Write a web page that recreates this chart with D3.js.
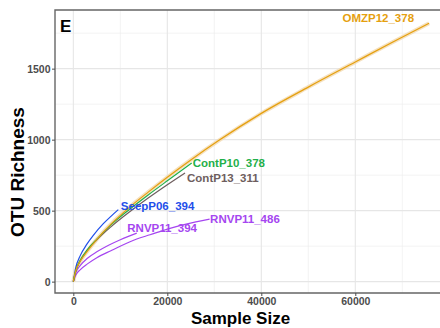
<!DOCTYPE html>
<html>
<head>
<meta charset="utf-8">
<script src="https://cdn.jsdelivr.net/npm/d3@7"></script>
<style>
  body { margin: 0; background: #fff; }
  text { font-family: "Liberation Sans", Arial, Helvetica, sans-serif; }
</style>
</head>
<body>
<div id="chart"></div>
<script>
// Rarefaction curves: sample size vs observed OTUs
const sampleNames = ["OMZP12_378", "ContP10_378", "ContP13_311", "SeepP06_394", "RNVP11_394", "RNVP11_486"];
const sampleColors = ["#E5A00F", "#1FB04A", "#6E5E5E", "#1F4FEA", "#A546F0", "#A546F0"];

const sizeOMZP12 = [0, 500, 1500, 3000, 5000, 8000, 12000, 16000, 20000, 25000, 31000, 40000, 50000, 60000, 68000, 75700];
const richOMZP12 = [0, 75, 145, 215, 298, 405, 525, 632, 735, 857, 995, 1185, 1370, 1547, 1688, 1820];

const sizeContP10 = [0, 500, 1500, 3000, 5000, 8000, 12000, 16000, 20000, 25190];
const richContP10 = [0, 75, 152, 225, 300, 400, 510, 612, 710, 835];

const sizeContP13 = [0, 500, 1500, 3000, 5000, 8000, 12000, 16000, 20000, 23770];
const richContP13 = [0, 72, 148, 222, 295, 386, 492, 590, 682, 765];

const sizeSeepP06 = [0, 500, 1500, 2850, 4255, 6380, 8000, 9574];
const richSeepP06 = [0, 95, 185, 262, 326, 408, 460, 507];

const sizeRNVP11a = [0, 500, 1500, 3000, 5000, 7500, 10000, 13500];
const richRNVP11a = [0, 62, 115, 165, 210, 256, 295, 342];

const sizeRNVP11b = [0, 500, 1500, 3000, 5000, 8000, 10300, 13500, 16320, 20000, 24000, 29000];
const richRNVP11b = [0, 45, 85, 125, 168, 218, 255, 300, 330, 370, 405, 440];

const xTicks = [0, 20000, 40000, 60000];
const xMinor = [10000, 30000, 50000, 70000];
const yTicks = [0, 500, 1000, 1500];
const yMinor = [250, 750, 1250, 1750];

// label offsets from each curve's end point (pixels)
const labelOffsets = [[-15, -1, "end"], [1, 3.5, "start"], [2, 8.5, "start"], [2.5, 0.5, "start"], [-9.5, -1, "start"], [0.5, 3.5, "start"]];

const series = [
  [sizeOMZP12, richOMZP12], [sizeContP10, richContP10], [sizeContP13, richContP13],
  [sizeSeepP06, richSeepP06], [sizeRNVP11a, richRNVP11a], [sizeRNVP11b, richRNVP11b]
].map(function (s, i) {
  return {
    name: sampleNames[i],
    color: sampleColors[i],
    values: s[0].map(function (d, j) { return { x: d, y: s[1][j] }; })
  };
});

const width = 440, height = 328;
const padLeft = 55, padTop = 10, padRight = 442, padBottom = 293;

const svg = d3.select("#chart").append("svg")
  .attr("width", width)
  .attr("height", height);

const x = d3.scaleLinear().domain([-3900, 78450]).range([padLeft, padRight]);
const y = d3.scaleLinear().domain([-80, 1913]).range([padBottom, padTop]);

// grid
const grid = svg.append("g");
grid.selectAll(".xminor").data(xMinor).enter().append("line")
  .attr("x1", d => x(d)).attr("x2", d => x(d)).attr("y1", padTop).attr("y2", padBottom)
  .attr("stroke", "#EEEEEE").attr("stroke-width", 0.7);
grid.selectAll(".yminor").data(yMinor).enter().append("line")
  .attr("x1", padLeft).attr("x2", padRight).attr("y1", d => y(d)).attr("y2", d => y(d))
  .attr("stroke", "#EEEEEE").attr("stroke-width", 0.7);
grid.selectAll(".xmajor").data(xTicks).enter().append("line")
  .attr("x1", d => x(d)).attr("x2", d => x(d)).attr("y1", padTop).attr("y2", padBottom)
  .attr("stroke", "#E6E6E6").attr("stroke-width", 1.1);
grid.selectAll(".ymajor").data(yTicks).enter().append("line")
  .attr("x1", padLeft).attr("x2", padRight).attr("y1", d => y(d)).attr("y2", d => y(d))
  .attr("stroke", "#E6E6E6").attr("stroke-width", 1.1);

// curves
const line = d3.line()
  .x(d => x(d.x))
  .y(d => y(d.y))
  .curve(d3.curveMonotoneX);

// faint ribbon under the long curve
svg.append("path")
  .datum(series[0].values)
  .attr("d", line)
  .attr("fill", "none")
  .attr("stroke", "#F3D9B0")
  .attr("stroke-width", 4)
  .attr("opacity", 0.8);

svg.selectAll(".curve")
  .data(series.slice().reverse())
  .enter()
  .append("path")
  .attr("d", d => line(d.values))
  .attr("fill", "none")
  .attr("stroke", d => d.color)
  .attr("stroke-width", 1.2);

// end labels
svg.selectAll(".lab")
  .data(series)
  .enter()
  .append("text")
  .attr("x", (d, i) => x(d.values[d.values.length - 1].x) + labelOffsets[i][0])
  .attr("y", (d, i) => y(d.values[d.values.length - 1].y) + labelOffsets[i][1])
  .attr("text-anchor", (d, i) => labelOffsets[i][2])
  .attr("fill", d => d.color)
  .style("font-size", "11.5px")
  .style("font-weight", "bold")
  .text(d => d.name);

// panel border
svg.append("path")
  .attr("d", "M" + padRight + "," + padTop + "H" + padLeft + "V" + padBottom + "H" + padRight)
  .attr("fill", "none")
  .attr("stroke", "#666666")
  .attr("stroke-width", 1.4);

// axes
const xAxis = svg.append("g")
  .attr("transform", "translate(0," + padBottom + ")")
  .call(d3.axisBottom(x).tickValues(xTicks).tickFormat(d3.format("d")).tickSize(3).tickPadding(2));
const yAxis = svg.append("g")
  .attr("transform", "translate(" + padLeft + ",0)")
  .call(d3.axisLeft(y).tickValues(yTicks).tickFormat(d3.format("d")).tickSize(3).tickPadding(1.5));

[xAxis, yAxis].forEach(function (a) {
  a.select(".domain").remove();
  a.selectAll(".tick line").attr("stroke", "#4D4D4D");
  a.selectAll(".tick text")
    .attr("fill", "#4D4D4D")
    .style("font-size", "10.5px")
    .style("font-weight", "bold")
    .style("font-family", "'Liberation Sans', Arial, sans-serif");
});

// titles
svg.append("text")
  .attr("x", 240.5)
  .attr("y", 324)
  .attr("text-anchor", "middle")
  .style("font-size", "17px")
  .style("font-weight", "bold")
  .text("Sample Size");

svg.append("text")
  .attr("transform", "translate(24,172) rotate(-90)")
  .attr("text-anchor", "middle")
  .style("font-size", "19px")
  .style("font-weight", "bold")
  .text("OTU Richness");

svg.append("text")
  .attr("x", 60)
  .attr("y", 32)
  .style("font-size", "17px")
  .style("font-weight", "bold")
  .text("E");
</script>
</body>
</html>
